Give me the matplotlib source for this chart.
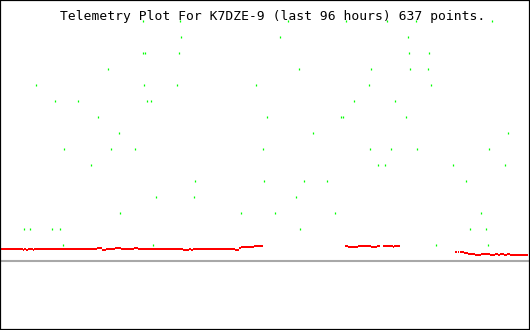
import matplotlib
matplotlib.use('Agg')
import matplotlib.pyplot as plt

# hours into the 96 hour window, one list per telemetry level
green_hours = {
    15: [25.85, 32.60, 52.22, 62.73, 70.04, 75.30, 89.12],
    14: [32.78, 50.77, 73.85],
    13: [25.96, 26.32, 32.48, 74.14, 77.76],
    12: [19.56, 54.21, 67.26, 74.32, 77.58],
    11: [6.52, 26.08, 32.01, 46.37, 66.89, 78.01],
    10: [9.96, 14.13, 26.63, 27.41, 64.07, 71.60],
    9: [17.81, 48.42, 61.82, 62.18, 73.59],
    8: [21.61, 56.75, 92.07],
    7: [11.65, 20.16, 24.40, 47.69, 67.07, 70.88, 75.53, 88.63],
    6: [16.54, 68.52, 69.79, 82.11, 91.53],
    5: [35.38, 47.87, 55.12, 59.28, 84.46],
    4: [28.31, 35.19, 53.67],
    3: [21.79, 43.71, 49.87, 60.73, 87.18],
    2: [4.40, 5.49, 9.47, 10.92, 54.39, 85.19, 88.09],
    1: [11.47, 27.77, 79.03, 88.45],
}

# red trace as runs: start hour, end hour, value
red_start = [0, 4.11, 4.35, 4.71, 5.07, 5.92, 6.10, 17.52, 18.42, 19.20, 20.78,
             21.86, 24.22, 24.94, 33.09, 34.23, 34.54, 34.90, 42.57, 43.29, 43.65, 46.01,
             62.49, 63.09, 64.90, 67.20, 68.29, 69.32, 71.24, 71.42,
             82.42, 82.90, 83.38, 84.10, 84.83, 86.04, 87.12, 88.75, 89.66, 90.26,
             90.62, 91.35, 91.78, 92.38]
red_end = [4.11, 4.35, 4.71, 5.07, 5.92, 6.10, 17.52, 18.42, 19.20, 20.78, 21.86,
           24.22, 24.94, 33.09, 34.23, 34.54, 34.90, 42.57, 43.29, 43.65, 46.01, 47.69,
           63.09, 64.90, 67.20, 68.29, 68.83, 71.24, 71.42, 72.51,
           82.72, 83.19, 84.10, 84.83, 86.04, 87.12, 88.75, 89.66, 90.26, 90.62,
           91.35, 91.78, 92.38, 95.69]
red_value = [0.75, 0.69, 0.75, 0.69, 0.75, 0.69, 0.75, 0.81, 0.69, 0.75, 0.81,
             0.75, 0.81, 0.75, 0.69, 0.75, 0.69, 0.75, 0.69, 0.81, 0.88, 0.94,
             0.96, 0.89, 0.96, 0.89, 0.96, 0.96, 0.89, 0.96,
             0.56, 0.56, 0.56, 0.50, 0.44, 0.38, 0.44, 0.38, 0.44, 0.38,
             0.44, 0.38, 0.44, 0.38]

title = "Telemetry Plot For K7DZE-9 (last 96 hours) 637 points."

fig = plt.figure(figsize=(5.3, 3.3), dpi=100)
ax = fig.add_axes([0, 0, 1, 1])

# title sits under the dots, as in the original
ax.text(273 / 530, 1 - 16.5 / 330, title, transform=ax.transAxes, ha='center', va='center',
        family='DejaVu Sans Mono', fontsize=9.4, color='black', zorder=1)

ax.axhline(0, color='#a8a8a8', lw=1.5)
ax.hlines(red_value, red_start, red_end, colors='#ff0000', lw=1.3, antialiased=False, zorder=2)

for level, hrs in green_hours.items():
    ax.plot(hrs, [level] * len(hrs), ls='none', marker='|', ms=1.5, mew=0.9,
            color='#00ff00', antialiased=False, zorder=3)

ax.set_xlim(0, 96)
ax.set_ylim(-69 / 16, 261 / 16)
ax.set_xticks([])
ax.set_yticks([])
for s in ax.spines.values():
    s.set_color('black')
    s.set_linewidth(1.6)

fig.savefig('out.png', dpi=100, facecolor='white')
